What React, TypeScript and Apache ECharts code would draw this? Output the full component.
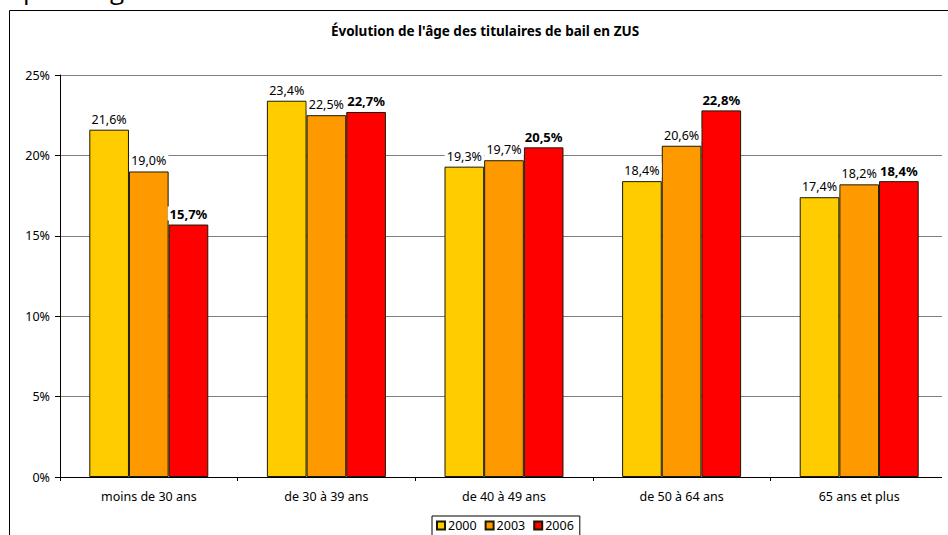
import React, { useEffect, useRef } from "react";
import * as echarts from "echarts";

const categories = ["moins de 30 ans", "de 30 à 39 ans", "de 40 à 49 ans", "de 50 à 64 ans", "65 ans et plus"];
const seriesNames = ["2000", "2003", "2006"];
const values2000 = [21.6, 23.4, 19.3, 18.4, 17.4];
const values2003 = [19.0, 22.5, 19.7, 20.6, 18.2];
const values2006 = [15.7, 22.7, 20.5, 22.8, 18.4];
const colors = ["#FFCC00", "#FF9900", "#FF0000"];
const titleText = "Évolution de l'âge des titulaires de bail en ZUS";

const FONT = "Noto Sans";

export default function App() {
  const ref = useRef<HTMLDivElement>(null);
  useEffect(() => {
    if (!ref.current) return;
    const chart = echarts.init(ref.current, undefined, { renderer: "svg" });
    const all = [values2000, values2003, values2006];
    const fmt = (v: number) => v.toFixed(1).replace(".", ",") + "%";
    chart.setOption({
      animation: false,
      backgroundColor: "#ffffff",
      textStyle: { fontFamily: FONT },
      grid: { left: 60, right: -2, top: 75, bottom: 58, containLabel: false },
      legend: {
        left: 432,
        top: 516,
        orient: "horizontal",
        borderColor: "#000",
        borderWidth: 1,
        padding: [3, 6, 6, 4],
        itemWidth: 8,
        itemHeight: 8,
        itemGap: 8,
        icon: "rect",
        textStyle: { fontFamily: FONT, fontSize: 12.5, color: "#000", padding: [0, 0, 0, -2] },
        data: seriesNames,
      },
      xAxis: {
        type: "category",
        data: categories,
        axisLine: { show: true, lineStyle: { color: "#000", width: 1 } },
        axisTick: { show: true, alignWithLabel: false, length: 4, inside: false, lineStyle: { color: "#000" } },
        axisLabel: { fontFamily: FONT, fontSize: 12.5, color: "#000", margin: 13 },
        splitLine: { show: false },
      },
      yAxis: {
        type: "value",
        min: 0,
        max: 25,
        interval: 5,
        axisLine: { show: true, lineStyle: { color: "#000", width: 1 } },
        axisTick: { show: true, length: 5, lineStyle: { color: "#000" } },
        axisLabel: { fontFamily: FONT, fontSize: 12.5, color: "#000", margin: 10, formatter: "{value}%" },
        splitLine: { show: true, lineStyle: { color: "#808080", width: 1 } },
      },
      series: seriesNames.map((name, i) => ({
        name,
        type: "bar",
        data: all[i],
        barGap: "0%",
        barCategoryGap: "33%",
        itemStyle: { color: colors[i], borderColor: "#1a1a00", borderWidth: 1 },
        label: {
          show: true,
          position: "top",
          distance: 4,
          fontFamily: FONT,
          fontSize: i === 2 ? 13 : 12.5,
          fontWeight: i === 2 ? "bold" : "normal",
          color: "#000",
          backgroundColor: "#ffffff",
          padding: [1, 2, 0, 2],
          formatter: (p: any) => fmt(p.value),
        },
      })),
      graphic: [
        {
          type: "rect",
          z: 100,
          shape: { x: 942, y: 11, width: 10, height: 530 },
          style: { fill: "#ffffff", stroke: "none" },
          silent: true,
        },
        {
          type: "line",
          z: 101,
          shape: { x1: 9.5, y1: 10.5, x2: 948, y2: 10.5 },
          style: { stroke: "#000", lineWidth: 1 },
          silent: true,
        },
        {
          type: "line",
          shape: { x1: 9.5, y1: 10.5, x2: 9.5, y2: 535 },
          style: { stroke: "#000", lineWidth: 1 },
          silent: true,
        },
        {
          type: "text",
          x: 485,
          y: 31,
          style: {
            text: titleText,
            fontFamily: FONT,
            fontSize: 13.5,
            fontWeight: "bold",
            fill: "#000",
            align: "center",
            verticalAlign: "middle",
          },
        },
        {
          type: "text",
          x: 23,
          y: 2,
          style: { text: "p", fontFamily: "Open Sans", fontSize: 26, fill: "#000", align: "left", verticalAlign: "bottom" },
        },
        {
          type: "text",
          x: 110,
          y: 2,
          style: { text: "g", fontFamily: "Open Sans", fontSize: 26, fill: "#000", align: "left", verticalAlign: "bottom" },
        },
      ],
    });
    return () => chart.dispose();
  }, []);
  return (
    <div
      ref={ref}
      style={{ position: "absolute", left: 0, top: 0, width: 948, height: 535 }}
    />
  );
}
